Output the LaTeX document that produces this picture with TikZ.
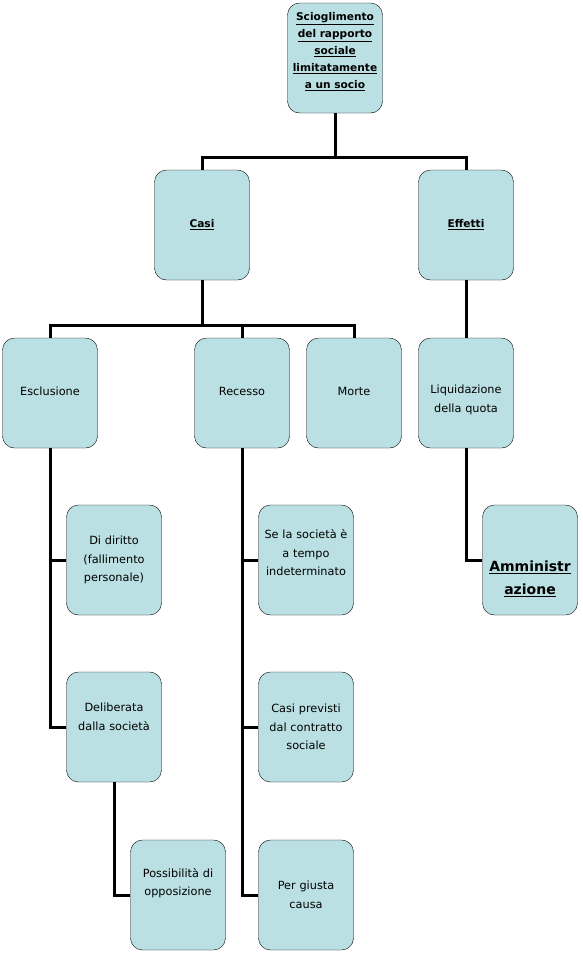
\documentclass[tikz,border=0pt]{standalone}
\usepackage{fontspec}
\setmainfont{DejaVu Sans}
\definecolor{boxfill}{RGB}{187,224,227}
\begin{document}
\begin{tikzpicture}[x = 1pt, y = -1pt,
		        every node/.style = {
		        	font = \fontsize{11.3}{18.5}\selectfont
		        },
		        card/.style = {
		        draw = black,
		        fill = boxfill,
		        thin,
		        rounded corners = 12pt,
		        minimum width = 95pt,
		        minimum height = 110pt,
		        text width = 92pt,
		        align = center,
		        inner sep = 0pt
		    },
		        title/.style = {
		        card,
		        font = \fontsize{10.6}{17}\selectfont\bfseries
		    },
		        tag/.style = {
		        text width = 92pt,
		        align = center,
		        inner sep = 0pt,
		        yshift = #1
		    },
		        link/.style = {
		        line width = 3pt,
		        line join = miter
		    }]
		    	\useasboundingbox (0, 0) rectangle (582, 954);
		    	% livello superiore
		    	\node[title, label = {[tag = 6pt, font = \fontsize{10.6}{17}\selectfont\bfseries]center:{\underline{Scioglimento}\\\underline{del rapporto}\\\underline{sociale}\\\underline{limitatamente}\\\underline{a un socio}}}] (socio) at (335, 58) {};
		    	\node[title] (casi) at (202, 225) {\underline{Casi}};
		    	\node[title] (effetti) at (466, 225) {\underline{Effetti}};
		    	% casi
		    	\node[card, label = {[tag = 2pt]center:Esclusione}] (esclusione) at (50, 393) {};
		    	\node[card, label = {[tag = 2pt]center:Recesso}] (recesso) at (242, 393) {};
		    	\node[card, label = {[tag = 2pt]center:Morte}] (morte) at (354, 393) {};
		    	\node[card, label = {[tag = -7pt]center:{Liquidazione\\della quota}}] (liquidazione) at (466, 393) {};
		    	\node[card] (diritto) at (114, 560) {Di diritto\\(fallimento\\personale)};
		    	\node[card, label = {[tag = 10pt]center:{Deliberata\\dalla società}}] (deliberata) at (114, 727) {};
		    	\node[card, label = {[tag = 12pt]center:{Possibilità di\\opposizione}}] (opposizione) at (178, 895) {};
		    	\node[card, label = {[tag = 7pt]center:{Se la società è\\a tempo\\indeterminato}}] (tempo) at (306, 560) {};
		    	\node[card] (previsti) at (306, 727) {Casi previsti\\dal contratto\\sociale};
		    	\node[card] (causa) at (306, 895) {Per giusta\\causa};
		    	\node[title, label = {[tag = -19pt, font = \fontsize{14}{23}\selectfont\bfseries]center:{\underline{Amministr}\\\underline{azione}}}] (amministrazione) at (530, 560) {};
		    	% collegamenti
		    	\coordinate (j1) at (335, 157);
		    	\coordinate (j2) at (202, 325);
		    	\draw[link] (socio) -- (j1) -| (casi);
		    	\draw[link] (j1) -| (effetti);
		    	\draw[link] (casi) -- (j2) -| (esclusione);
		    	\draw[link] (j2) -| (recesso);
		    	\draw[link] (j2) -| (morte);
		    	\draw[link] (effetti) -- (liquidazione);
		    	\draw[link] (esclusione.south) |- (diritto.west);
		    	\draw[link] (esclusione.south) |- (deliberata.west);
		    	\draw[link] (deliberata.south) |- (opposizione.west);
		    	\draw[link] (recesso.south) |- (tempo.west);
		    	\draw[link] (recesso.south) |- (previsti.west);
		    	\draw[link] (recesso.south) |- (causa.west);
		    	\draw[link] (liquidazione.south) |- (amministrazione.west);
	\end{tikzpicture}
\end{document}
